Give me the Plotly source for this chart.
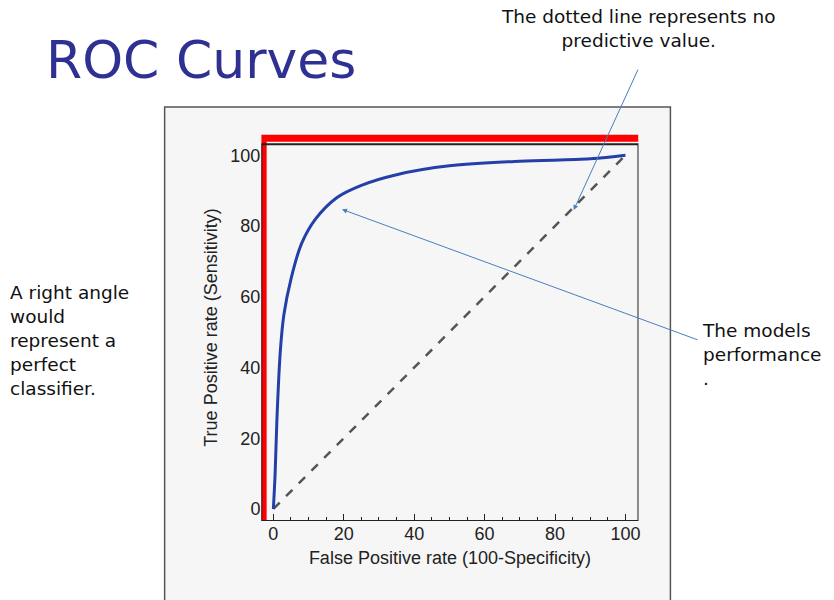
import plotly.graph_objects as go

# ROC curve
fpr = [0, 0.5, 1, 2, 3, 5, 8, 12, 18, 25, 35, 50, 70, 90, 100]
tpr = [0, 10, 25, 45, 55, 65, 75, 82, 88, 91.5, 94.5, 97, 98.3, 99, 100]
diag_x = [0, 100]
diag_y = [0, 100]
perfect_x = [-2.9, -2.9, 103.7]
perfect_y = [-3.4, 104.8, 104.8]
ticks = [0, 20, 40, 60, 80, 100]

W, H = 834, 600
OFF = 8  # page offset of the browser
fig = go.Figure()

# outer grey panel
fig.add_shape(type="rect", xref="paper", yref="paper", x0=(165-OFF)/W, x1=(672-OFF)/W, y0=0, y1=1-(107-OFF)/H,
              fillcolor="#f6f6f6", line=dict(color="#555", width=1.5), layer="below")
# plot frame
fig.add_shape(type="rect", xref="x", yref="y", x0=-3.4, x1=103.7, y0=-3.4, y1=103.1,
              line=dict(color="#222", width=2))

fig.add_trace(go.Scatter(x=diag_x, y=diag_y, mode="lines",
                         line=dict(color="#555", width=2.5, dash="dash"), showlegend=False))
fig.add_trace(go.Scatter(x=fpr, y=tpr, mode="lines", line=dict(color="#2440a8", width=3, shape="spline"),
                         showlegend=False))
fig.add_trace(go.Scatter(x=perfect_x, y=perfect_y, mode="lines", line=dict(color="#ff0000", width=7),
                         showlegend=False))

axfont = dict(family="Liberation Sans, Arial", size=18, color="#222")
fig.update_xaxes(domain=[(262-OFF)/W, (640-OFF)/W], range=[-3.4, 103.7], tickvals=ticks, ticks="inside",
                 ticklen=7, tickcolor="#222", minor=dict(dtick=5, ticks="inside", ticklen=4, tickcolor="#222"),
                 showline=False, showgrid=False, zeroline=False,
                 tickfont=axfont, title=dict(text="False Positive rate (100-Specificity)", font=axfont, standoff=8))
fig.update_yaxes(domain=[1-(521-OFF)/H, 1-(134-OFF)/H], range=[-3.4, 106.0], tickvals=ticks, ticks="",
                 showline=False, showgrid=False, zeroline=False, tickfont=axfont,
                 title=dict(text="True Positive rate (Sensitivity)", font=axfont, standoff=8))

txt = dict(family="DejaVu Sans", size=18.5, color="#111")
arrow = dict(showarrow=True, arrowhead=2, arrowsize=1, arrowwidth=1, arrowcolor="#4a7ebb", text="",
             xref="x", yref="y", axref="pixel", ayref="pixel")
fig.add_annotation(x=-8.5, y=71.8, ax=-139, ay=73, **arrow)
fig.add_annotation(x=85.3, y=84.5, ax=65, ay=-142, **arrow)
fig.add_annotation(x=19.5, y=84.7, ax=357, ay=131, **arrow)

fig.add_annotation(xref="paper", yref="paper", x=(8-OFF)/W, y=1-(280-OFF)/H, xanchor="left", yanchor="top",
                   align="left", showarrow=False, font=txt,
                   text="A right angle<br>would<br>represent a<br>perfect<br>classifier.")
fig.add_annotation(xref="paper", yref="paper", x=(640-OFF)/W, y=1-(4-OFF)/H, xanchor="center", yanchor="top",
                   showarrow=False, font=txt, text="The dotted line represents no<br>predictive value.")
fig.add_annotation(xref="paper", yref="paper", x=(702-OFF)/W, y=1-(318-OFF)/H, xanchor="left", yanchor="top",
                   align="left", showarrow=False, font=txt, text="The models<br>performance<br>.")
fig.add_annotation(xref="paper", yref="paper", x=(44-OFF)/W, y=1-(60-OFF)/H, xanchor="left", yanchor="middle",
                   showarrow=False, font=dict(family="DejaVu Sans", size=52, color="#2e3192"),
                   text="ROC Curves")

fig.update_layout(width=W, height=H, margin=dict(l=0, r=0, t=0, b=0),
                  paper_bgcolor="white", plot_bgcolor="#f6f6f6")
fig.write_html("out.html")
